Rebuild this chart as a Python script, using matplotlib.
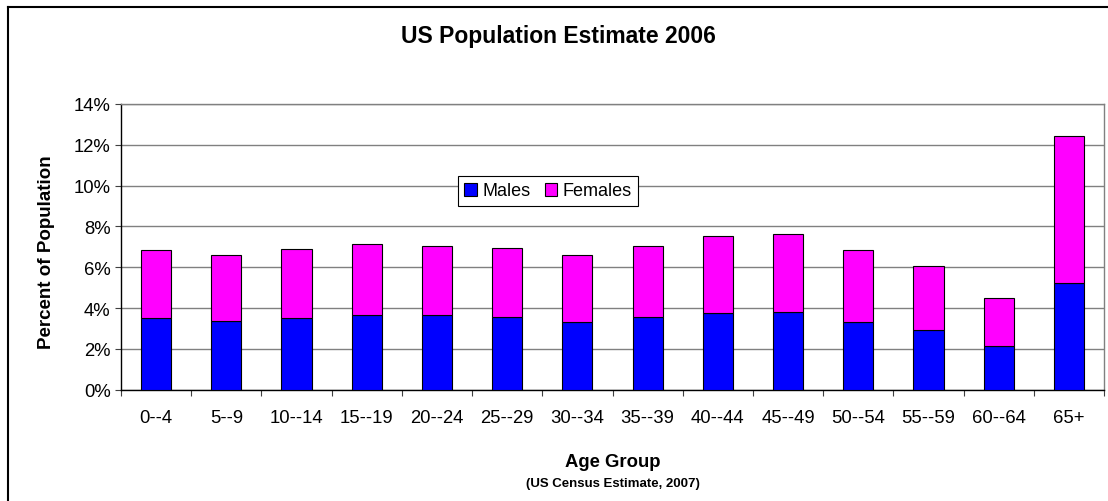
import matplotlib
matplotlib.use("Agg")
import matplotlib.pyplot as plt
from matplotlib.lines import Line2D
from matplotlib.ticker import FuncFormatter
import numpy as np

plt.rcParams['font.family'] = ['Liberation Sans', 'DejaVu Sans']

age_groups = ["0--4", "5--9", "10--14", "15--19", "20--24", "25--29", "30--34",
              "35--39", "40--44", "45--49", "50--54", "55--59", "60--64", "65+"]
males = [3.50, 3.38, 3.50, 3.66, 3.66, 3.56, 3.32, 3.55, 3.74, 3.79, 3.32, 2.92, 2.12, 5.23]
females = [3.33, 3.22, 3.38, 3.46, 3.40, 3.38, 3.28, 3.51, 3.78, 3.84, 3.51, 3.16, 2.36, 7.22]

W, H = 1108, 502
fig = plt.figure(figsize=(W / 100, H / 100), dpi=100)
ax = fig.add_axes([121 / W, 1 - 390.7 / H, (1104 - 121) / W, (390.7 - 105) / H])

x = np.arange(len(age_groups))
ax.bar(x, males, width=0.43, color='#0000FF', edgecolor='black', linewidth=0.8,
       label='Males', zorder=3)
ax.bar(x, females, width=0.43, bottom=males, color='#FF00FF', edgecolor='black',
       linewidth=0.8, label='Females', zorder=3)

ax.set_xlim(-0.5, len(age_groups) - 0.5)
ax.set_ylim(0, 14)
ax.set_yticks(np.arange(0, 15, 2))
ax.yaxis.set_major_formatter(FuncFormatter(lambda v, p: f"{v:.0f}%"))
ax.grid(axis='y', color='#808080', linewidth=1.0, zorder=0)

ax.set_xticks(x)
ax.set_xticklabels(age_groups)
ax.set_xticks(np.arange(-0.5, len(age_groups)), minor=True)
ax.tick_params(axis='x', which='major', length=0, pad=14, labelsize=13.3)
ax.tick_params(axis='x', which='minor', length=4, width=0.8, color='#404040')
ax.tick_params(axis='y', length=4.5, width=0.8, color='#404040', labelsize=13.3, pad=3)

for s in ['top', 'right']:
    ax.spines[s].set_color('#808080')
    ax.spines[s].set_linewidth(1.0)
for s in ['left', 'bottom']:
    ax.spines[s].set_color('black')
    ax.spines[s].set_linewidth(1.0)

leg = ax.legend(loc='center', bbox_to_anchor=((548 - 121) / 983, (390.7 - 192) / 285.7),
                ncol=2, fontsize=13, frameon=True, fancybox=False, framealpha=1,
                edgecolor='black', handlelength=0.7, handleheight=0.7,
                handletextpad=0.3, columnspacing=0.8, borderpad=0.35, borderaxespad=0)
leg.get_frame().set_linewidth(0.8)
for h in leg.legend_handles:
    h.set_linewidth(0.8)

fig.text(558 / W, 1 - 36 / H, "US Population Estimate 2006", ha='center', va='center',
         fontsize=16.5, fontweight='bold')
fig.text(46.7 / W, 1 - 252.5 / H, "Percent of Population", rotation=90, ha='center',
         va='center', fontsize=13.5, fontweight='bold')
fig.text(613 / W, 1 - 463 / H, "Age Group", ha='center', va='center',
         fontsize=13.3, fontweight='bold')
fig.text(613 / W, 1 - 484 / H, "(US Census Estimate, 2007)", ha='center', va='center',
         fontsize=9.5, fontweight='bold')

# outer chart frame (left and top edges visible)
fig.add_artist(Line2D([7.5 / W, 7.5 / W], [0, 1 - 7.5 / H], color='black', linewidth=1.5))
fig.add_artist(Line2D([7.5 / W, 1], [1 - 7.5 / H, 1 - 7.5 / H], color='black', linewidth=1.5))

fig.savefig("out.png", dpi=100)
